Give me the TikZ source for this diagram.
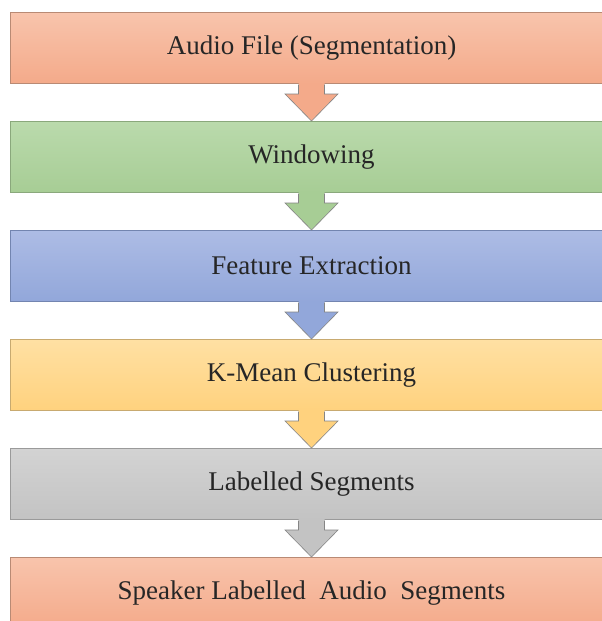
\documentclass[tikz,border=0pt]{standalone}
\usepackage{fontspec}
\setmainfont{Liberation Serif}
\usetikzlibrary{calc}
\definecolor{salT}{HTML}{F8C4AC}\definecolor{salB}{HTML}{F4AA8A}\definecolor{salD}{HTML}{B98A74}
\definecolor{grnT}{HTML}{BADAAC}\definecolor{grnB}{HTML}{A7CD95}\definecolor{grnD}{HTML}{8AA87C}
\definecolor{bluT}{HTML}{ADBCE5}\definecolor{bluB}{HTML}{92A7DA}\definecolor{bluD}{HTML}{7385B0}
\definecolor{yelT}{HTML}{FFE0A3}\definecolor{yelB}{HTML}{FFD27E}\definecolor{yelD}{HTML}{C8AA70}
\definecolor{gryT}{HTML}{D3D3D3}\definecolor{gryB}{HTML}{C3C3C3}\definecolor{gryD}{HTML}{9A9A9A}
\definecolor{txt}{HTML}{262626}
\definecolor{arrline}{HTML}{858585}
\tikzset{
  stagebox/.style={rectangle, minimum width=602pt, minimum height=71pt, inner sep=0pt,
    font=\fontsize{27}{30}\selectfont, text=txt, line width=1pt, anchor=north west},
  salbox/.style={stagebox, top color=salT, bottom color=salB, draw=salD},
  grnbox/.style={stagebox, top color=grnT, bottom color=grnB, draw=grnD},
  blubox/.style={stagebox, top color=bluT, bottom color=bluB, draw=bluD},
  yelbox/.style={stagebox, top color=yelT, bottom color=yelB, draw=yelD},
  grybox/.style={stagebox, top color=gryT, bottom color=gryB, draw=gryD},
  flowarrow/.style={draw=arrline, line width=0.6pt, line join=miter},
}
% #1 upper node, #2 lower node, #3 fill colour
\newcommand{\flowarr}[3]{%
  \fill[#3] ($(#1.south)+(-13,1)$) -- ($(#1.south)+(-13,-10)$) -- ($(#1.south)+(-26.5,-10)$)
     -- (#2.north) -- ($(#1.south)+(26.5,-10)$) -- ($(#1.south)+(13,-10)$) -- ($(#1.south)+(13,1)$) -- cycle;
  \draw[flowarrow] ($(#1.south)+(-13,-0.5)$) -- ($(#1.south)+(-13,-10)$) -- ($(#1.south)+(-26.5,-10)$)
     -- (#2.north) -- ($(#1.south)+(26.5,-10)$) -- ($(#1.south)+(13,-10)$) -- ($(#1.south)+(13,-0.5)$);
}
\begin{document}
\begin{tikzpicture}[x=1pt,y=1pt]
\useasboundingbox (0,0) rectangle (602,-621);
\clip (0,0) rectangle (602,-621);
\fill[white] (0,0) rectangle (602,-621);
\node[salbox] (b1) at (10,-12) {Audio File (Segmentation)};
\node[grnbox] (b2) at (10,-121) {Windowing};
\node[blubox] (b3) at (10,-230) {Feature Extraction};
\node[yelbox] (b4) at (10,-339) {K-Mean Clustering};
\node[grybox] (b5) at (10,-448) {Labelled Segments};
\node[salbox] (b6) at (10,-557) {Speaker Labelled\ \ Audio\ \ Segments};
\flowarr{b1}{b2}{salB}
\flowarr{b2}{b3}{grnB}
\flowarr{b3}{b4}{bluB}
\flowarr{b4}{b5}{yelB}
\flowarr{b5}{b6}{gryB}
\end{tikzpicture}
\end{document}
